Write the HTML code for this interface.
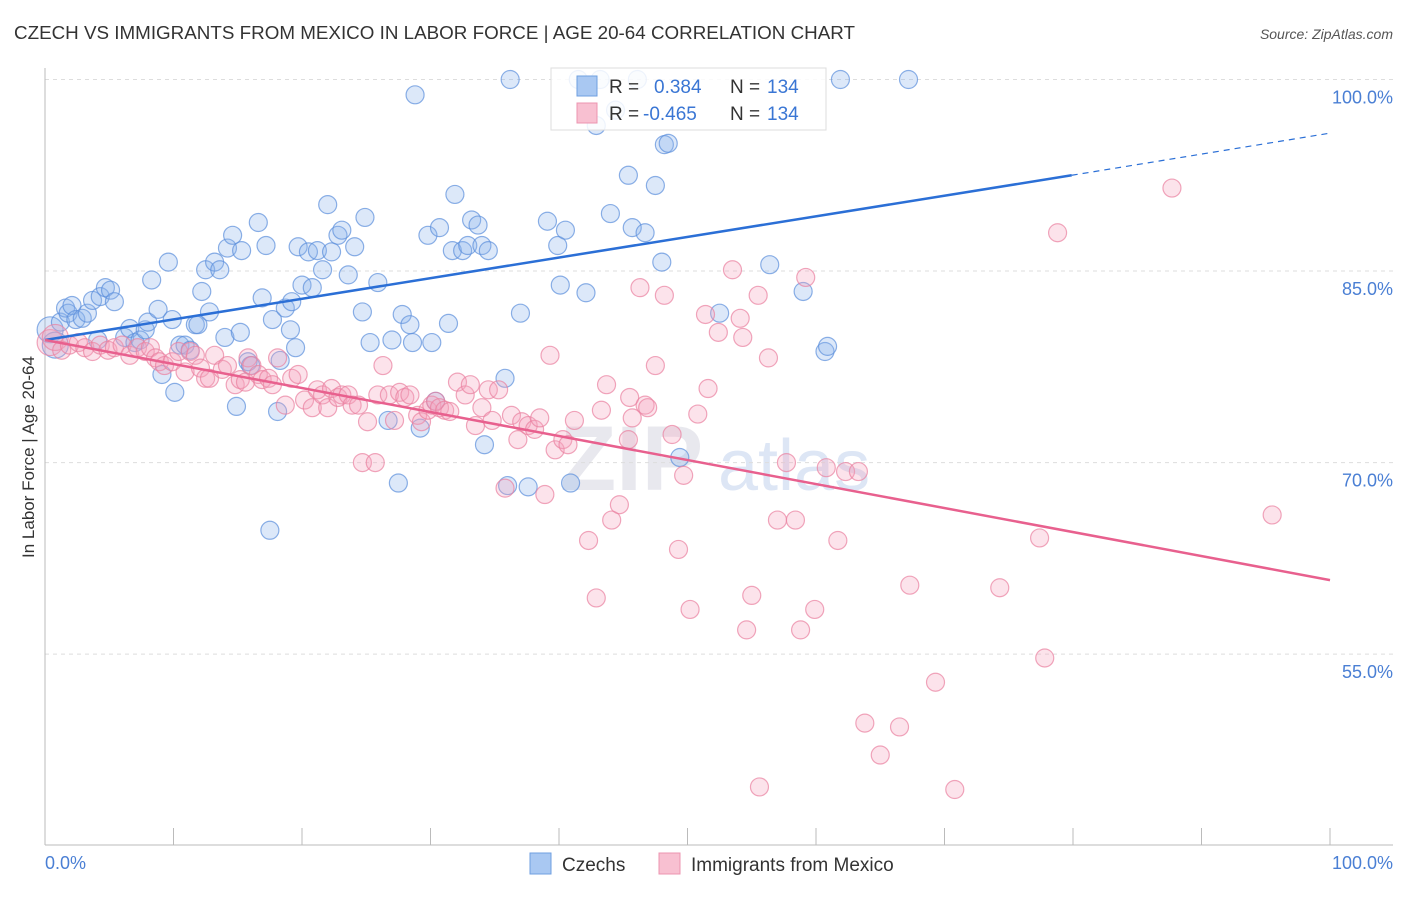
<!DOCTYPE html>
<html><head><meta charset="utf-8"><style>
body{margin:0;background:#fff;font-family:"Liberation Sans",sans-serif;}
svg text{font-family:"Liberation Sans",sans-serif;}
</style></head><body>
<svg id="chart" width="1406" height="892" xmlns="http://www.w3.org/2000/svg">
<text x="14" y="39" font-size="18" fill="#333" textLength="841" lengthAdjust="spacingAndGlyphs">CZECH VS IMMIGRANTS FROM MEXICO IN LABOR FORCE | AGE 20-64 CORRELATION CHART</text>
<text x="1393" y="39" font-size="14" fill="#555" font-style="italic" text-anchor="end">Source: ZipAtlas.com</text>
<text x="560" y="490" font-size="92" fill="#e8e8ee" font-weight="bold" font-family="Liberation Serif">ZIP</text>
<text x="718" y="490" font-size="72" fill="#dde6f5">atlas</text>
<g id="grid"></g>
<g id="pts"></g>
<g id="lines"></g>
<text transform="translate(34,457) rotate(-90)" font-size="17" fill="#333" text-anchor="middle">In Labor Force | Age 20-64</text>
<g>
<rect x="551" y="68" width="275" height="62" fill="#fff" fill-opacity="0.85" stroke="#ddd"/>
<rect x="577" y="76" width="20" height="20" fill="#a9c8f2" stroke="#6f9fe0"/>
<rect x="577" y="103" width="20" height="20" fill="#f8c0d1" stroke="#ec94b0"/>
<text x="609" y="93" font-size="19" fill="#333">R = </text><text x="654" y="93" font-size="19" fill="#3a76d4">0.384</text>
<text x="730" y="93" font-size="19" fill="#333">N = </text><text x="767" y="93" font-size="19" fill="#3a76d4">134</text>
<text x="609" y="120" font-size="19" fill="#333">R = </text><text x="643" y="120" font-size="19" fill="#3a76d4">-0.465</text>
<text x="730" y="120" font-size="19" fill="#333">N = </text><text x="767" y="120" font-size="19" fill="#3a76d4">134</text>
</g>
<g>
<rect x="530" y="853" width="21" height="21" fill="#a9c8f2" stroke="#6f9fe0"/>
<text x="562" y="871" font-size="19" fill="#333">Czechs</text>
<rect x="659" y="853" width="21" height="21" fill="#f8c0d1" stroke="#ec94b0"/>
<text x="691" y="871" font-size="19" fill="#333">Immigrants from Mexico</text>
</g>
</svg>
<script>
const czX=[0.4,0.8,1.2,1.6,1.8,2.1,2.4,2.9,3.3,3.7,4.3,4.7,5.1,5.4,4.1,6.2,6.6,7.0,7.4,7.8,8.0,8.3,8.8,9.1,9.6,9.9,10.1,10.5,10.9,11.3,11.7,11.9,12.2,12.5,12.8,13.2,13.6,14.0,14.2,14.6,14.9,15.2,15.3,15.8,16.0,16.6,16.9,17.2,17.5,17.7,18.1,18.3,18.7,19.1,19.2,19.5,19.7,20.0,20.5,20.8,21.2,21.6,22.0,22.3,22.8,23.1,23.6,24.1,24.7,24.9,25.3,25.9,26.7,27.0,27.5,27.8,28.4,28.6,28.8,29.2,29.8,30.1,30.4,30.7,31.4,31.7,31.9,32.5,32.9,33.2,33.7,34.0,34.5,34.2,35.8,36.2,36.0,37.0,37.6,39.1,39.9,40.1,40.5,40.9,41.5,42.1,42.9,43.2,44.0,44.4,45.4,45.7,46.1,46.7,47.5,48.0,48.2,48.5,49.4,52.5,56.4,59.0,60.7,60.9,61.9,67.2];
const czY=[80.4,79.2,81.0,82.1,81.7,82.3,81.2,81.3,81.7,82.7,83.0,83.7,83.5,82.6,79.6,79.8,80.5,79.4,79.6,80.4,81.0,84.3,82.0,76.9,85.7,81.2,75.5,79.2,79.2,78.8,80.8,80.8,83.4,85.1,81.8,85.7,85.1,79.8,86.8,87.8,74.4,80.2,86.6,77.9,77.6,88.8,82.9,87.0,64.7,81.2,74.0,78.0,82.1,80.4,82.6,79.0,86.9,83.9,86.5,83.7,86.6,85.1,90.2,86.5,87.8,88.2,84.7,86.9,81.8,89.2,79.4,84.1,73.3,79.6,68.4,81.6,80.8,79.4,98.8,72.7,87.8,79.4,74.8,88.4,80.9,86.6,91.0,86.6,87.0,89.0,88.6,87.0,86.6,71.4,76.6,100,68.2,81.7,68.1,88.9,87.0,83.9,88.2,68.4,100,83.3,96.4,100,89.5,97.6,92.5,88.4,100,88.0,91.7,85.7,94.9,95.0,70.4,81.7,85.5,83.4,78.7,79.1,100,100];
const mxX=[0.4,0.8,1.3,1.9,2.6,3.1,3.7,4.3,4.9,5.4,6.0,6.6,7.2,7.8,8.2,8.6,8.9,9.3,9.9,10.4,10.9,11.3,11.7,12.1,12.5,12.8,13.2,13.8,14.2,14.8,15.2,15.6,15.8,16.1,16.6,16.9,17.4,17.7,18.1,18.7,19.2,19.7,20.2,20.8,21.2,21.6,22.0,22.3,22.8,23.1,23.6,23.9,24.4,24.7,25.1,25.7,25.9,26.3,26.8,27.2,27.6,28.0,28.4,29.0,29.3,29.8,30.1,30.4,30.7,31.1,31.5,32.1,32.7,33.1,33.5,34.0,34.5,34.8,35.3,35.8,36.3,36.8,37.1,37.6,38.1,38.5,38.9,39.3,39.7,40.3,40.7,41.2,42.3,42.9,43.3,43.7,44.1,44.7,45.4,45.5,45.7,46.3,46.7,46.9,47.5,48.2,48.8,49.3,49.7,50.2,50.8,51.4,51.6,52.4,53.5,54.1,54.3,54.6,55.0,55.5,55.6,56.3,57.0,57.7,58.4,58.8,59.2,59.9,60.8,61.7,62.3,63.3,63.8,65.0,66.5,67.3,69.3,70.8,74.3,77.4,77.8,78.8,87.7,95.5];
const mxY=[79.4,79.8,78.8,79.2,79.4,79.0,78.7,79.2,78.8,79.0,79.2,78.4,79.0,78.7,79.0,78.2,77.9,77.6,77.9,78.7,77.1,78.7,78.4,77.4,76.6,76.6,78.4,77.3,77.6,76.1,76.5,76.3,78.2,77.6,76.9,76.5,76.6,76.1,78.2,74.5,76.6,76.9,74.9,74.3,75.7,75.3,74.3,75.8,75.1,75.3,75.3,74.5,74.5,70.0,73.2,70.0,75.3,77.6,75.3,73.3,75.5,75.1,75.3,73.7,73.2,74.1,74.5,74.8,74.3,74.1,74.0,76.3,75.3,76.1,72.9,74.3,75.7,73.3,75.7,68.0,73.7,71.8,73.2,72.9,72.6,73.5,67.5,78.4,71.0,71.8,71.4,73.3,63.9,59.4,74.1,76.1,65.5,66.7,71.8,75.1,73.5,83.7,74.5,74.3,77.6,83.1,72.2,63.2,69.0,58.5,73.8,81.6,75.8,80.2,85.1,81.3,79.8,56.9,59.6,83.1,44.6,78.2,65.5,70.0,65.5,56.9,84.5,58.5,69.6,63.9,69.3,69.3,49.6,47.1,49.3,60.4,52.8,44.4,60.2,64.1,54.7,88.0,91.5,65.9];
const czTrend=[[0,79.6],[79.9,92.5],[100,95.8]];
const mxTrend=[[0,79.6],[100,60.8]];
const yTicks=[100,85,70,55];
const xTickLabels=["0.0%","100.0%"];

const NS="http://www.w3.org/2000/svg";
const X0=45,X1=1330,YTOP=79.5,YPX=12.77;
const sx=v=>X0+(X1-X0)*v/100;
const sy=v=>YTOP+(100-v)*YPX;
function mk(tag,attrs,parent){const e=document.createElementNS(NS,tag);for(const k in attrs)e.setAttribute(k,attrs[k]);parent.appendChild(e);return e;}
const grid=document.getElementById('grid');
yTicks.forEach(t=>{
  const l=mk('line',{x1:X0,x2:1393,y1:sy(t),y2:sy(t),stroke:'#ddd','stroke-dasharray':'4,4'},grid);
  
  
  const tx=mk('text',{x:1393,y:sy(t)+24,'font-size':18,fill:'#4a7fd4','text-anchor':'end'},grid);
  tx.textContent=t.toFixed(1)+'%';
  
  
});
const ax=mk('line',{x1:X0,x2:X0,y1:68,y2:845,stroke:'#bbb'},grid);


const bx=mk('line',{x1:X0,x2:1393,y1:845,y2:845,stroke:'#bbb'},grid);


for(let i=0;i<=10;i++){const t=mk('line',{x1:sx(i*10),x2:sx(i*10),y1:828,y2:845,stroke:'#bbb'},grid);
  
  }
[[0,'start',45],[100,'end',1393]].forEach((d,i)=>{const t=mk('text',{x:d[2],y:869,'font-size':18,fill:'#4a7fd4','text-anchor':d[1]},grid);t.textContent=xTickLabels[i];
  
  });
const pts=document.getElementById('pts');
function draw(xs,ys,fill,stroke,name){xs.forEach((x,i)=>{const r=(x<1)?13:9;
  const c=mk('circle',{cx:sx(x),cy:sy(ys[i]),r:r,fill:fill,'fill-opacity':0.3,stroke:stroke,'stroke-opacity':0.7,'stroke-width':1.2},pts);
  
  });}
draw(czX,czY,'#8ab4ec','#5b8fdc','czech-point');
draw(mxX,mxY,'#f4a3bd','#e9809f','mexico-point');
const lines=document.getElementById('lines');
const bl=mk('line',{x1:sx(czTrend[0][0]),y1:sy(czTrend[0][1]),x2:sx(czTrend[1][0]),y2:sy(czTrend[1][1]),stroke:'#2b6fd6','stroke-width':2.5},lines);


const bd=mk('line',{x1:sx(czTrend[1][0]),y1:sy(czTrend[1][1]),x2:sx(czTrend[2][0]),y2:sy(czTrend[2][1]),stroke:'#2b6fd6','stroke-width':1.2,'stroke-dasharray':'6,5'},lines);


const pl=mk('line',{x1:sx(mxTrend[0][0]),y1:sy(mxTrend[0][1]),x2:sx(mxTrend[1][0]),y2:sy(mxTrend[1][1]),stroke:'#e8608e','stroke-width':2.5},lines);


</script>
</body></html>
